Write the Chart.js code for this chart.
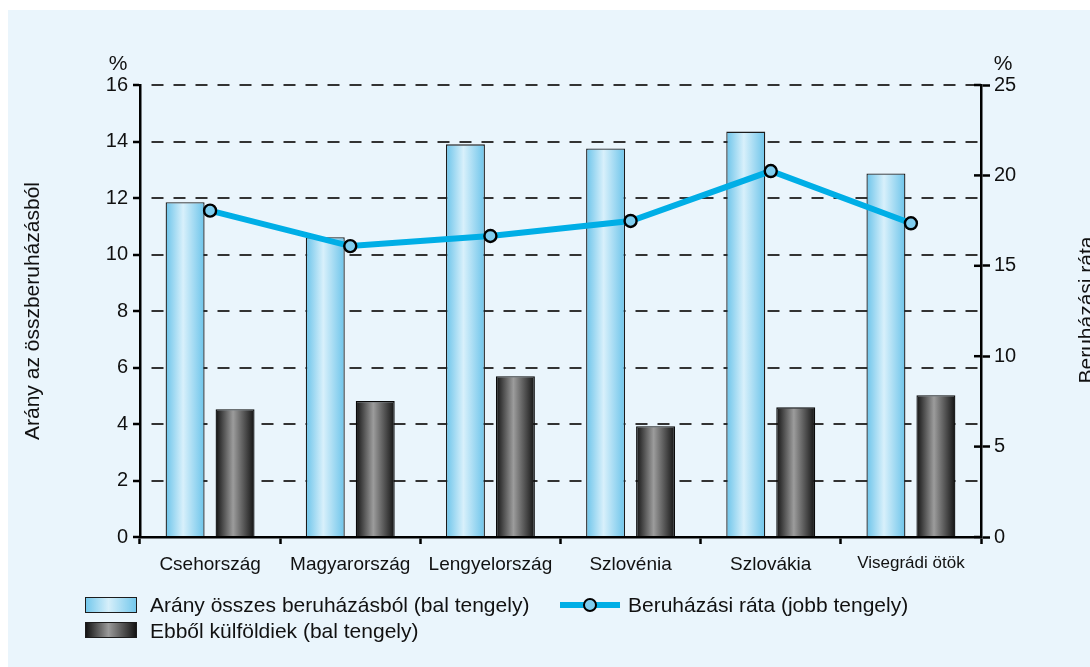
<!DOCTYPE html>
<html>
<head>
<meta charset="utf-8">
<script src="https://cdn.jsdelivr.net/npm/chart.js@4"></script>
<style>
  html, body { margin: 0; padding: 0; background: #ffffff; }
  #wrap { position: relative; width: 1090px; height: 667px; overflow: hidden; background: #ffffff; font-family: "Liberation Sans", Arial, sans-serif; }
  #panel { position: absolute; left: 8px; top: 10px; right: 0; bottom: 0; background: #eaf5fc; }
  #chartBox { position: absolute; left: 0; top: 0; width: 1090px; height: 667px; }
  .lg { position: absolute; font-size: 21px; color: #111; white-space: nowrap; line-height: 24px; }
  .sw { position: absolute; width: 52px; height: 16px; box-sizing: border-box; border: 1px solid #1c1c1c; }
  .sw.light { background: linear-gradient(to right, #74c8ec 0%, #d6effa 45%, #74c8ec 100%); }
  .sw.dark { background: linear-gradient(to right, #141414 0%, #9a9a9a 45%, #141414 100%); }
  .ln { position: absolute; height: 6px; background: #00aee6; }
  .pt { position: absolute; width: 10px; height: 10px; border-radius: 50%; background: #7fcdef; border: 2px solid #000; }
</style>
</head>
<body>
<div id="wrap">
  <div id="panel"></div>
  <div id="chartBox"><canvas id="c"></canvas></div>
  <div class="sw light" style="left:85px; top:597px;"></div>
  <div class="lg" style="left:150px; top:593px;">Arány összes beruházásból (bal tengely)</div>
  <div class="sw dark" style="left:85px; top:622px;"></div>
  <div class="lg" style="left:150px; top:619px;">Ebből külföldiek (bal tengely)</div>
  <div class="ln" style="left:560px; top:602px; width:60px;"></div>
  <div class="pt" style="left:583px; top:598px;"></div>
  <div class="lg" style="left:628px; top:593px;">Beruházási ráta (jobb tengely)</div>
</div>
<script>
const categories = ['Csehország', 'Magyarország', 'Lengyelország', 'Szlovénia', 'Szlovákia', 'Visegrádi ötök'];
const aranyOsszes = [11.85, 10.61, 13.90, 13.75, 14.35, 12.87];
const ebbolKulfoldi = [4.52, 4.81, 5.69, 3.92, 4.59, 5.02];
const beruhazasiRata = [18.05, 16.09, 16.65, 17.48, 20.24, 17.35];
const seriesNames = ['Arány összes beruházásból (bal tengely)', 'Ebből külföldiek (bal tengely)', 'Beruházási ráta (jobb tengely)'];
const leftTitle = 'Arány az összberuházásból';
const rightTitle = 'Beruházási ráta';

const FONT = '"Liberation Sans", Arial, sans-serif';
Chart.defaults.font.family = FONT;
Chart.defaults.color = '#111';

const CAT_PCT = 0.713;
const BAR_PCT = 0.78;

function barGradient(ctx, light) {
  const chart = ctx.chart;
  const xs = chart.scales && chart.scales.x;
  const fallback = light ? '#9fdaf2' : '#555';
  if (!xs || ctx.type !== 'data' || !isFinite(xs.width) || xs.width <= 0) return fallback;
  const cat = xs.getPixelForValue(ctx.dataIndex);
  const w = xs.width / categories.length;
  const slot = w * CAT_PCT / 2;
  const center = cat + (light ? -slot / 2 : slot / 2);
  const half = slot * BAR_PCT / 2;
  const g = chart.ctx.createLinearGradient(center - half, 0, center + half, 0);
  if (light) {
    g.addColorStop(0, '#6cc4ea');
    g.addColorStop(0.45, '#d8f0fb');
    g.addColorStop(1, '#6cc4ea');
  } else {
    g.addColorStop(0, '#121212');
    g.addColorStop(0.45, '#9c9c9c');
    g.addColorStop(1, '#121212');
  }
  return g;
}

const extras = {
  id: 'extras',
  afterDraw(chart) {
    const c = chart.ctx;
    const y1 = chart.scales.y1;
    c.save();
    c.strokeStyle = '#000';
    c.lineWidth = 2.5;
    y1.ticks.forEach(t => {
      const y = y1.getPixelForValue(t.value);
      c.beginPath();
      c.moveTo(y1.left - 7, y);
      c.lineTo(y1.left, y);
      c.stroke();
    });
    c.fillStyle = '#111';
    c.font = '21px ' + FONT;
    c.textAlign = 'center';
    c.textBaseline = 'middle';
    c.fillText('%', 118, 64);
    c.fillText('%', 1003, 64);
    c.translate(1093, 310);
    c.rotate(-Math.PI / 2);
    c.textBaseline = 'alphabetic';
    c.fillText(rightTitle, 0, 0);
    c.restore();
  }
};

new Chart(document.getElementById('c'), {
  type: 'bar',
  data: {
    labels: categories,
    datasets: [
      {
        type: 'bar', label: seriesNames[0], data: aranyOsszes, yAxisID: 'y', order: 1,
        backgroundColor: (ctx) => barGradient(ctx, true),
        borderColor: '#1c1c1c', borderWidth: 1.3,
        categoryPercentage: CAT_PCT, barPercentage: BAR_PCT
      },
      {
        type: 'bar', label: seriesNames[1], data: ebbolKulfoldi, yAxisID: 'y', order: 1,
        backgroundColor: (ctx) => barGradient(ctx, false),
        borderColor: '#0a0a0a', borderWidth: 1.3,
        categoryPercentage: CAT_PCT, barPercentage: BAR_PCT
      },
      {
        type: 'line', label: seriesNames[2], data: beruhazasiRata, yAxisID: 'y1', order: 0,
        borderColor: '#00aee6', borderWidth: 6, tension: 0,
        pointRadius: 6, pointBackgroundColor: '#7fcdef', pointBorderColor: '#000', pointBorderWidth: 2.4,
        fill: false
      }
    ]
  },
  options: {
    responsive: true,
    maintainAspectRatio: false,
    animation: false,
    layout: { padding: { top: 85, left: 0, right: 0, bottom: 0 } },
    plugins: { legend: { display: false }, tooltip: { enabled: false } },
    scales: {
      x: {
        type: 'category',
        offset: true,
        afterFit: (s) => { s.height = 130; },
        grid: { offset: true, drawOnChartArea: false, drawTicks: true, tickLength: 7, tickColor: '#000', tickWidth: 2.5, color: '#000' },
        border: { display: true, color: '#000', width: 2.5 },
        ticks: {
          autoSkip: false, maxRotation: 0, minRotation: 0, padding: 9, color: '#111',
          font: (c) => c.index === 5 ? { size: 17 } : { size: 19 }
        }
      },
      y: {
        position: 'left',
        min: 0, max: 16,
        afterFit: (s) => { s.width = 140; },
        ticks: { stepSize: 2, padding: 5, font: { size: 20 }, color: '#111' },
        grid: {
          drawOnChartArea: true, drawTicks: true, tickLength: 7, tickWidth: 2.5, tickColor: '#000', tickBorderDash: [],
          lineWidth: 2,
          color: (c) => (c.tick && c.tick.value === 0) ? 'rgba(0,0,0,0)' : '#333333'
        },
        border: { display: true, color: '#000', width: 2.5, dash: [12, 10], dashOffset: 12 },
        title: { display: true, text: leftTitle, font: { size: 21 }, color: '#111', padding: { top: 21, bottom: 0 } }
      },
      y1: {
        position: 'right',
        min: 0, max: 25,
        afterFit: (s) => { s.width = 109; },
        ticks: { stepSize: 5, padding: 4, font: { size: 20 }, color: '#111' },
        grid: { drawOnChartArea: false, drawTicks: true, tickLength: 9, tickWidth: 2.5, tickColor: '#000', color: '#000' },
        border: { display: true, color: '#000', width: 2.5 }
      }
    }
  },
  plugins: [extras]
});
</script>
</body>
</html>
